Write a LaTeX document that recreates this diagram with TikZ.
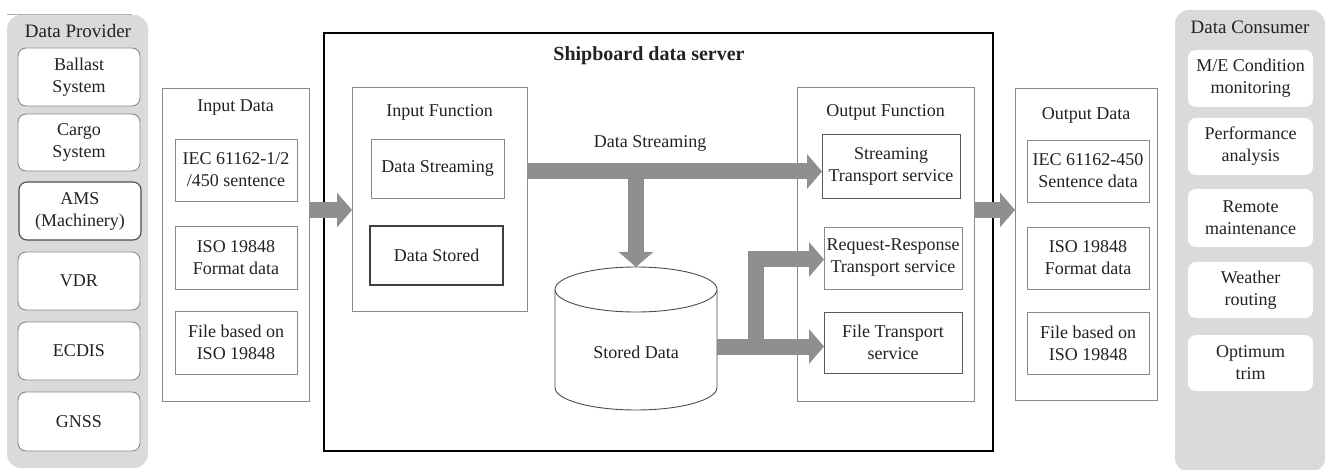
\documentclass[tikz,border=0pt]{standalone}
\usepackage{fontspec}
\setmainfont{Liberation Serif}
\usetikzlibrary{arrows.meta}
\definecolor{panelgray}{HTML}{DADADA}
\definecolor{flowgray}{HTML}{8F8F8F}
\definecolor{edgegray}{HTML}{8A8A8A}
\definecolor{txt}{HTML}{222222}
\tikzset{
  every node/.style={font=\fontsize{18}{22}\selectfont, text=txt, inner sep=0pt, outer sep=0pt, align=center},
  panel/.style={fill=panelgray, draw=none, rounded corners=14pt},
  provbox/.style={fill=white, draw=edgegray, line width=0.9pt, rounded corners=8pt},
  consbox/.style={fill=white, draw=none, rounded corners=8pt},
  groupbox/.style={fill=white, draw=edgegray, line width=0.9pt},
  itembox/.style={draw=edgegray, line width=0.9pt},
  darkbox/.style={draw=black!75, line width=1.1pt},
  serverbox/.style={draw=black, line width=2.8pt},
  flow/.style={draw=flowgray, line width=16pt, line join=miter,
    -{Triangle[length=15pt, width=34pt]}},
}
\begin{document}
\begin{tikzpicture}[x=1pt, y=-1pt]
\useasboundingbox (0,0) rectangle (1330,470);

% ---- Data Provider column ----
\draw[edgegray!70, line width=0.8pt] (7,14.5) -- (132,14.5);
\node[panel, minimum width=141pt, minimum height=453pt] (prov) at (77.5,241.5) {};
\node[font=\fontsize{19}{22}\selectfont] (provT) at (78,31) {Data Provider};
\node[provbox, minimum width=122pt, minimum height=58pt] (ballast) at (79,77) {Ballast\\System};
\node[provbox, minimum width=122pt, minimum height=57pt] (cargo) at (79,142.5) {Cargo\\System};
\node[provbox, draw=black!70, line width=1.1pt, minimum width=122pt, minimum height=58pt] (ams) at (80,211) {AMS\\(Machinery)};
\node[provbox, minimum width=122pt, minimum height=58pt] (vdr) at (79,281) {VDR};
\node[provbox, minimum width=122pt, minimum height=58pt] (ecdis) at (79,351) {ECDIS};
\node[provbox, minimum width=122pt, minimum height=59pt] (gnss) at (79,421.5) {GNSS};

% ---- Input Data ----
\node[groupbox, minimum width=147pt, minimum height=313pt] (indata) at (235.5,244.5) {};
\node (indataT) at (235.5,108) {Input Data};
\node[itembox, minimum width=122pt, minimum height=62pt] (iniec) at (236,170) {IEC 61162-1/2\\/450 sentence};
\node[itembox, minimum width=122pt, minimum height=63pt] (iniso) at (236,257.5) {ISO 19848\\Format data};
\node[itembox, minimum width=122pt, minimum height=63pt] (infile) at (236,342.5) {File based on\\ISO 19848};

% ---- Shipboard data server ----
\node[serverbox, minimum width=669pt, minimum height=418pt] (server) at (658.5,242) {};
\node[font=\fontsize{20}{24}\selectfont\bfseries] (serverT) at (649,56) {Shipboard data server};

% Input Function
\node[groupbox, minimum width=175pt, minimum height=224pt] (infunc) at (439.5,199) {};
\node (infuncT) at (439.5,112) {Input Function};
\node[itembox, minimum width=133pt, minimum height=59pt] (dstream) at (437.5,168.5) {Data Streaming};
\node[darkbox, minimum width=133pt, minimum height=59pt] (dstored) at (436.5,255.5) {Data Stored};

% Stored data cylinder
\node[minimum width=162pt, minimum height=143pt] (db) at (636,338.5) {};
\draw[black!70, line width=0.9pt, fill=white]
  (555,289.5) -- (555,387.5) arc[start angle=180, end angle=360, x radius=81pt, y radius=22.5pt]
  -- (717,289.5);
\draw[black!70, line width=0.9pt, fill=white] (636,289.5) ellipse[x radius=81pt, y radius=22.5pt];
\node (dbT) at (636,352) {Stored Data};

% Output Function
\node[groupbox, minimum width=177pt, minimum height=314pt] (outfunc) at (885.5,244) {};
\node (outfuncT) at (885.5,112) {Output Function};
\node[darkbox, draw=black!65, line width=0.9pt, minimum width=138pt, minimum height=64pt] (streamT) at (891,166) {Streaming\\Transport service};
\node[itembox, minimum width=138pt, minimum height=62pt] (reqresp) at (893,258) {Request-Response\\Transport service};
\node[itembox, draw=black!65, minimum width=138pt, minimum height=61pt] (fileT) at (893,342.5) {File Transport\\service};

\node (streamLbl) at (650,143) {Data Streaming};

% ---- Output Data ----
\node[groupbox, minimum width=142pt, minimum height=312pt] (outdata) at (1086,244) {};
\node (outdataT) at (1086,115) {Output Data};
\node[itembox, minimum width=122pt, minimum height=62pt] (outiec) at (1088,171) {IEC 61162-450\\Sentence data};
\node[itembox, minimum width=122pt, minimum height=62pt] (outiso) at (1088,258) {ISO 19848\\Format data};
\node[itembox, minimum width=122pt, minimum height=62pt] (outfile) at (1088,343) {File based on\\ISO 19848};

% ---- Data Consumer column ----
\node[panel, minimum width=150pt, minimum height=462pt] (cons) at (1250,241) {};
\node[font=\fontsize{19}{22}\selectfont] (consT) at (1250,27) {Data Consumer};
\node[consbox, minimum width=125pt, minimum height=57pt] (me) at (1250.5,78.5) {M/E Condition\\monitoring};
\node[consbox, minimum width=125pt, minimum height=57pt] (perf) at (1250.5,146.5) {Performance\\analysis};
\node[consbox, minimum width=125pt, minimum height=58pt] (remote) at (1250.5,218) {Remote\\maintenance};
\node[consbox, minimum width=125pt, minimum height=56pt] (weather) at (1250.5,290) {Weather\\routing};
\node[consbox, minimum width=125pt, minimum height=56pt] (optimum) at (1250.5,363) {Optimum\\trim};

% ---- Data flows ----
\draw[flow] (indata.east |- 0,210) -- (infunc.west |- 0,210);
\draw[flow] (infunc.east |- 0,171.5) -- (streamT.west |- 0,171.5);
\draw[flow] (db.north |- 0,171.5) -- (db.north);
\draw[flow] (db.east |- 0,346.5) -- (fileT.west |- 0,346.5);
\coordinate (branch) at (755.5,346.5);
\draw[flow] (branch) -- (branch |- 0,259.5) -- (reqresp.west |- 0,259.5);
\draw[flow] (outfunc.east |- 0,210) -- (outdata.west |- 0,210);
\end{tikzpicture}
\end{document}
